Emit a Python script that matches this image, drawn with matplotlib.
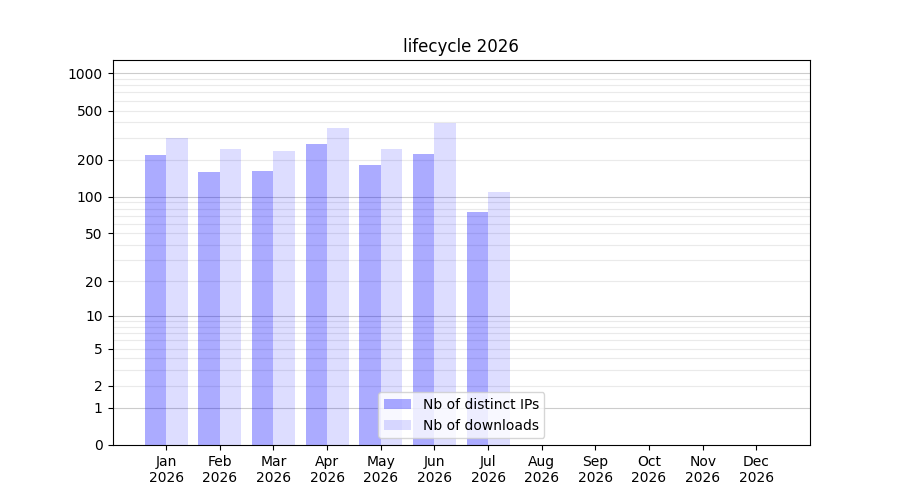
import numpy as np
import matplotlib
matplotlib.use('Agg')
import matplotlib.pyplot as plt

months = ['Jan', 'Feb', 'Mar', 'Apr', 'May', 'Jun', 'Jul', 'Aug', 'Sep', 'Oct', 'Nov', 'Dec']
year = 2026
distinct_ips = [218, 159, 162, 268, 181, 222, 75]
downloads = [301, 244, 235, 361, 244, 396, 109]
ytick_values = [0, 1, 2, 5, 10, 20, 50, 100, 200, 500, 1000]

def fwd(y):
    return np.log10(np.clip(y, 0, None) + 1)

def inv(y):
    return 10**y - 1

fig, ax = plt.subplots(figsize=(9, 5), dpi=100)
ax.set_yscale('function', functions=(fwd, inv))

x = np.arange(len(distinct_ips))
ax.bar(x, distinct_ips, width=-0.4, align='edge', color='blue', alpha=0.33,
       linewidth=0, label='Nb of distinct IPs')
ax.bar(x, downloads, width=0.4, align='edge', color='blue', alpha=0.135,
       linewidth=0, label='Nb of downloads')

# grid: light lines at 2..9 of each decade, darker at decades
for dec in [1, 10, 100]:
    for k in range(2, 10):
        ax.axhline(dec * k, color='#dddddd', linewidth=0.8, alpha=0.6, zorder=0.5)
for dec in [1, 10, 100, 1000]:
    ax.axhline(dec, color='gray', linewidth=0.8, alpha=0.4, zorder=0.5)

ax.set_ylim(0, 1280)
ax.set_yticks(ytick_values)
ax.set_yticklabels([str(v) for v in ytick_values])
ax.minorticks_off()

ax.set_xlim(-1, 12)
ax.set_xticks(np.arange(len(months)))
ax.set_xticklabels([f'{m}\n{year}' for m in months])

ax.set_title(f'lifecycle {year}')
ax.legend(loc='lower center')

fig.savefig('out.png')
